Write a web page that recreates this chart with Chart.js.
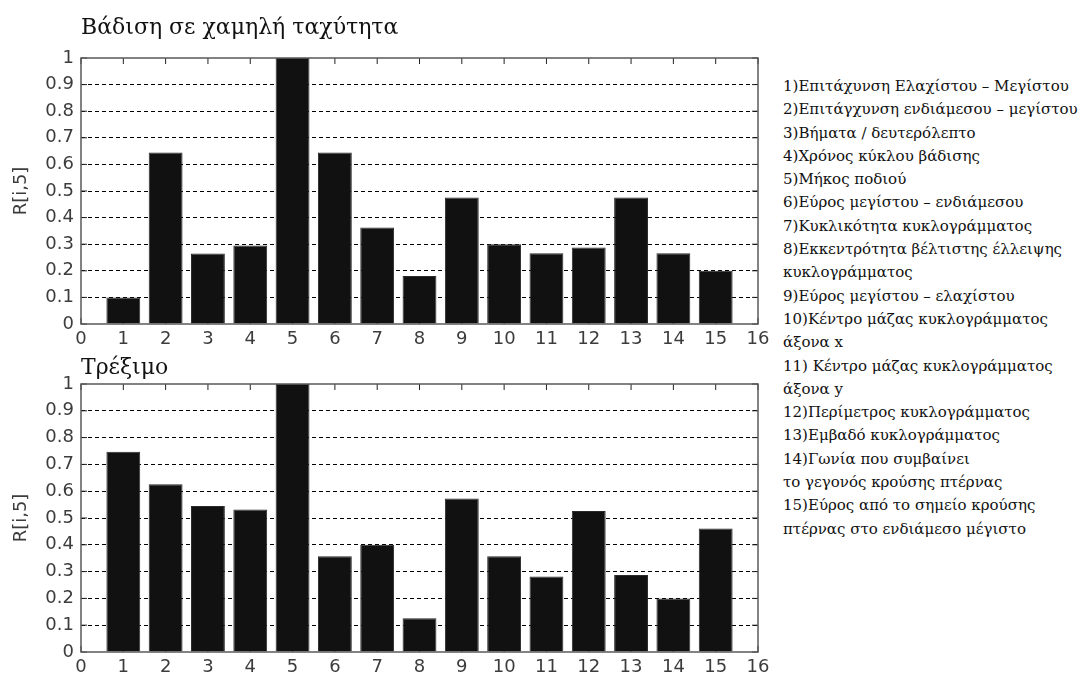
<!DOCTYPE html>
<html>
<head>
<meta charset="utf-8">
<script src="https://cdn.jsdelivr.net/npm/chart.js@4"></script>
<style>
    html, body { margin: 0; padding: 0; background: #fff; }
    #page { position: relative; width: 1085px; height: 678px; overflow: hidden; }
    canvas { position: absolute; left: 0; }
    #walk-chart { top: 0; }
    #run-chart { top: 350px; }
    #features {
        position: absolute;
        left: 783px;
        top: 75px;
        margin: 0;
        padding: 0;
        list-style: none;
        font-family: "DejaVu Serif", "Liberation Serif", serif;
        font-size: 15px;
        line-height: 23.3px;
        color: #111;
        white-space: nowrap;
    }
</style>
</head>
<body>
<div id="page">
    <canvas id="walk-chart" width="780" height="350"></canvas>
    <canvas id="run-chart" width="780" height="328"></canvas>
    <ul id="features"></ul>
</div>
<script>
// Feature index on the x axis
const features = [1, 2, 3, 4, 5, 6, 7, 8, 9, 10, 11, 12, 13, 14, 15];

// R[i,5] values
const walkValues = [0.10, 0.645, 0.265, 0.295, 1.0, 0.645, 0.363, 0.18, 0.476, 0.30, 0.266, 0.288, 0.476, 0.266, 0.20];
const runValues = [0.747, 0.626, 0.545, 0.532, 1.0, 0.357, 0.40, 0.126, 0.573, 0.357, 0.282, 0.526, 0.287, 0.20, 0.461];

// Tick labels
const xTickLabels = ['0', '1', '2', '3', '4', '5', '6', '7', '8', '9', '10', '11', '12', '13', '14', '15', '16'];
const yTickLabels = ['0', '0.1', '0.2', '0.3', '0.4', '0.5', '0.6', '0.7', '0.8', '0.9', '1'];

// Text on the right side
const featureLines = [
    '1)Επιτάχυνση Ελαχίστου – Μεγίστου',
    '2)Επιτάγχυνση ενδιάμεσου – μεγίστου',
    '3)Βήματα / δευτερόλεπτο',
    '4)Χρόνος κύκλου βάδισης',
    '5)Μήκος ποδιού',
    '6)Εύρος μεγίστου – ενδιάμεσου',
    '7)Κυκλικότητα κυκλογράμματος',
    '8)Εκκεντρότητα βέλτιστης έλλειψης',
    'κυκλογράμματος',
    '9)Εύρος μεγίστου – ελαχίστου',
    '10)Κέντρο μάζας κυκλογράμματος',
    'άξονα x',
    '11) Κέντρο μάζας κυκλογράμματος',
    'άξονα y',
    '12)Περίμετρος κυκλογράμματος',
    '13)Εμβαδό κυκλογράμματος',
    '14)Γωνία που συμβαίνει',
    'το γεγονός κρούσης πτέρνας',
    '15)Εύρος από το σημείο κρούσης',
    'πτέρνας στο ενδιάμεσο μέγιστο'
];

const tickFont = { family: '"DejaVu Sans", "Liberation Sans", Arial, sans-serif', size: 18 };
const tickColor = '#3c3c3c';

/**
 * Frame around the plot area plus inward tick marks (MATLAB look)
 */
const matlabAxes = {
    id: 'matlabAxes',
    beforeDatasetsDraw(chart) {
        const { ctx, chartArea: a, scales } = chart;
        ctx.save();
        ctx.strokeStyle = '#222';
        ctx.lineWidth = 1;
        ctx.beginPath();
        scales.x.ticks.forEach(t => {
            const px = scales.x.getPixelForValue(t.value);
            ctx.moveTo(px, a.top);
            ctx.lineTo(px, a.top + 6);
            ctx.moveTo(px, a.bottom);
            ctx.lineTo(px, a.bottom - 6);
        });
        scales.y.ticks.forEach(t => {
            const py = scales.y.getPixelForValue(t.value);
            ctx.moveTo(a.left, py);
            ctx.lineTo(a.left + 6, py);
            ctx.moveTo(a.right, py);
            ctx.lineTo(a.right - 6, py);
        });
        ctx.stroke();
        ctx.restore();
    },
    afterDatasetsDraw(chart) {
        const { ctx, chartArea: a } = chart;
        ctx.save();
        ctx.strokeStyle = '#5a5a5a';
        ctx.lineWidth = 1.5;
        ctx.strokeRect(a.left, a.top, a.right - a.left, a.bottom - a.top);
        ctx.restore();
    }
};

/**
 * Build one bar panel
 */
function makePanel(canvasId, title, values, titlePadding) {
    const ctx = document.getElementById(canvasId).getContext('2d');
    return new Chart(ctx, {
        type: 'bar',
        data: {
            datasets: [{
                data: features.map((f, i) => ({ x: f, y: values[i] })),
                backgroundColor: '#111111',
                borderColor: '#2a2a2a',
                borderWidth: 1,
                categoryPercentage: 1,
                barPercentage: 0.8
            }]
        },
        options: {
            responsive: false,
            animation: false,
            devicePixelRatio: 1,
            layout: {
                padding: { left: 0, right: 22, top: 0, bottom: 0 }
            },
            plugins: {
                legend: { display: false },
                tooltip: { enabled: false },
                title: {
                    display: true,
                    text: title,
                    align: 'start',
                    fullSize: false,
                    color: '#111',
                    font: { family: '"DejaVu Serif", "Liberation Serif", serif', size: 22, weight: 'normal' },
                    padding: titlePadding
                }
            },
            scales: {
                x: {
                    type: 'linear',
                    min: 0,
                    max: 16,
                    offset: false,
                    grid: { display: false, drawTicks: false, offset: false },
                    border: { display: false },
                    ticks: {
                        stepSize: 1,
                        padding: 5,
                        color: tickColor,
                        font: tickFont,
                        maxRotation: 0,
                        autoSkip: false,
                        callback: (value, index) => xTickLabels[index]
                    },
                    afterFit: scale => { scale.height = 26; }
                },
                y: {
                    min: 0,
                    max: 1,
                    grid: {
                        drawTicks: false,
                        lineWidth: 1,
                        color: c => (c.tick && c.tick.value > 0 && c.tick.value < 1) ? '#000' : 'rgba(0,0,0,0)'
                    },
                    border: { display: false, dash: [4, 3] },
                    ticks: {
                        stepSize: 0.1,
                        padding: 7,
                        color: tickColor,
                        font: tickFont,
                        callback: (value, index) => yTickLabels[index]
                    },
                    title: {
                        display: true,
                        text: 'R[i,5]',
                        color: tickColor,
                        font: tickFont,
                        padding: { top: 11, bottom: 0 }
                    },
                    afterFit: scale => { scale.width = 81; }
                }
            }
        },
        plugins: [matlabAxes]
    });
}

document.getElementById('features').innerHTML = featureLines.map(l => `<li>${l}</li>`).join('');

makePanel('walk-chart', 'Βάδιση σε χαμηλή ταχύτητα', walkValues, { top: 14.8, bottom: 16.8 });
makePanel('run-chart', 'Τρέξιμο', runValues, { top: 4.8, bottom: 2.8 });
</script>
</body>
</html>
